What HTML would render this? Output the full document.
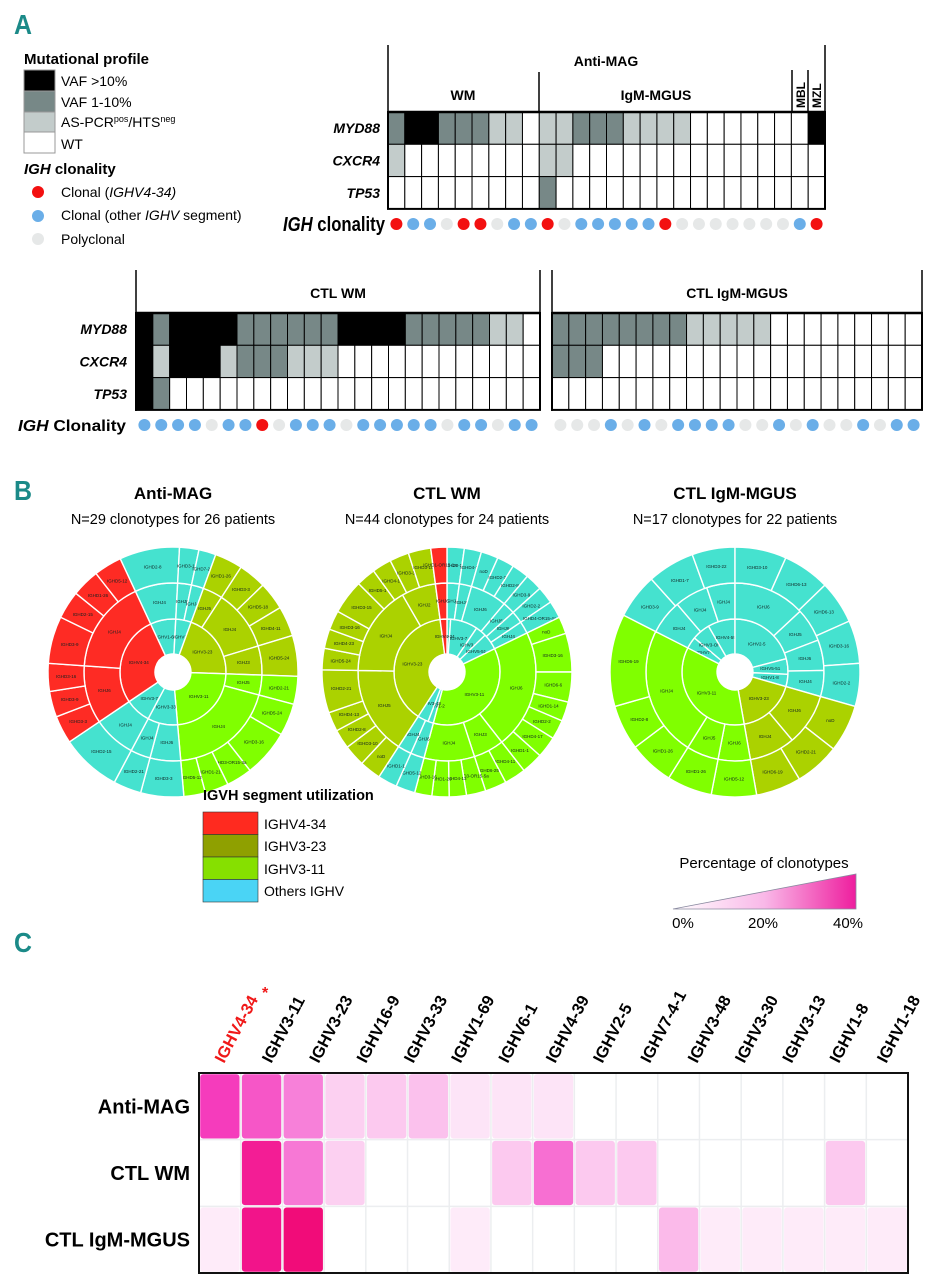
<!DOCTYPE html>
<html><head><meta charset="utf-8"><title>Figure</title>
<style>
html,body{margin:0;padding:0;background:#fff;}
svg{display:block;font-family:"Liberation Sans",sans-serif;}
</style></head>
<body>
<svg id="fig" width="940" height="1280" viewBox="0 0 940 1280" xmlns="http://www.w3.org/2000/svg">
  <text x="14" y="34" font-size="28" font-weight="bold" fill="#1b8a88" textLength="18" lengthAdjust="spacingAndGlyphs">A</text>
  <text x="14" y="500" font-size="28" font-weight="bold" fill="#1b8a88" textLength="18" lengthAdjust="spacingAndGlyphs">B</text>
  <text x="14" y="952" font-size="28" font-weight="bold" fill="#1b8a88" textLength="18" lengthAdjust="spacingAndGlyphs">C</text>

  <g>
    <text x="24" y="64" font-size="15" font-weight="bold">Mutational profile</text>
    <rect x="24" y="70" width="31" height="21" fill="#000" stroke="#999"/>
    <rect x="24" y="91" width="31" height="21" fill="#778887" stroke="#999"/>
    <rect x="24" y="112" width="31" height="20" fill="#c3cccb" stroke="#999"/>
    <rect x="24" y="132" width="31" height="21" fill="#fff" stroke="#999"/>
    <text x="61" y="86" font-size="14">VAF &gt;10%</text>
    <text x="61" y="107" font-size="14">VAF 1-10%</text>
    <text x="61" y="127" font-size="14">AS-PCR<tspan font-size="9" dy="-5">pos</tspan><tspan dy="5">/HTS</tspan><tspan font-size="9" dy="-5">neg</tspan></text>
    <text x="61" y="149" font-size="14">WT</text>
    <text x="24" y="174" font-size="15" font-weight="bold"><tspan font-style="italic">IGH</tspan> clonality</text>
    <circle cx="38" cy="192" r="6" fill="#f31010"/>
    <circle cx="38" cy="216" r="6" fill="#6aaee8"/>
    <circle cx="38" cy="239" r="6" fill="#e6e8e8"/>
    <text x="61" y="197" font-size="14">Clonal (<tspan font-style="italic">IGHV4-34)</tspan></text>
    <text x="61" y="220" font-size="14">Clonal (other <tspan font-style="italic">IGHV</tspan> segment)</text>
    <text x="61" y="244" font-size="14">Polyclonal</text>
  </g>

  <g stroke="#000" stroke-width="1.5">
    <line x1="388" y1="45" x2="388" y2="209"/>
    <line x1="825" y1="45" x2="825" y2="209"/>
    <line x1="539" y1="72" x2="539" y2="112"/>
    <line x1="792" y1="70" x2="792" y2="112"/>
    <line x1="808" y1="70" x2="808" y2="112"/>
  </g>
  <text x="606" y="66" font-size="14" font-weight="bold" text-anchor="middle">Anti-MAG</text>
  <text x="463" y="100" font-size="14" font-weight="bold" text-anchor="middle">WM</text>
  <text x="656" y="100" font-size="14" font-weight="bold" text-anchor="middle">IgM-MGUS</text>
  <text transform="translate(805,108) rotate(-90)" font-size="12" font-weight="bold">MBL</text>
  <text transform="translate(821,108) rotate(-90)" font-size="12" font-weight="bold">MZL</text>

  <g stroke="#000" stroke-width="1.5">
    <line x1="136" y1="270" x2="136" y2="411"/>
    <line x1="540" y1="270" x2="540" y2="313"/>
    <line x1="552" y1="270" x2="552" y2="411"/>
    <line x1="922" y1="270" x2="922" y2="313"/>
  </g>
  <text x="338" y="298" font-size="14" font-weight="bold" text-anchor="middle">CTL WM</text>
  <text x="737" y="298" font-size="14" font-weight="bold" text-anchor="middle">CTL IgM-MGUS</text>

  <g id="gridLayer"></g>

  <text x="173" y="499" font-size="17" font-weight="bold" text-anchor="middle">Anti-MAG</text>
  <text x="173" y="524" font-size="14.5" text-anchor="middle">N=29 clonotypes for 26 patients</text>
  <text x="447" y="499" font-size="17" font-weight="bold" text-anchor="middle">CTL WM</text>
  <text x="447" y="524" font-size="14.5" text-anchor="middle">N=44 clonotypes for 24 patients</text>
  <text x="735" y="499" font-size="17" font-weight="bold" text-anchor="middle">CTL IgM-MGUS</text>
  <text x="735" y="524" font-size="14.5" text-anchor="middle">N=17 clonotypes for 22 patients</text>

  <g id="sunLayer"></g>

  <g>
    <text x="203" y="800" font-size="14.5" font-weight="bold">IGVH segment utilization</text>
    <rect x="203" y="812" width="55" height="22.5" fill="#ff2a1f" stroke="#333" stroke-width="0.6"/>
    <rect x="203" y="834.5" width="55" height="22.5" fill="#8fa000" stroke="#333" stroke-width="0.6"/>
    <rect x="203" y="857" width="55" height="22.5" fill="#86e000" stroke="#333" stroke-width="0.6"/>
    <rect x="203" y="879.5" width="55" height="22.5" fill="#4ad4f5" stroke="#333" stroke-width="0.6"/>
    <text x="264" y="829" font-size="14">IGHV4-34</text>
    <text x="264" y="851" font-size="14">IGHV3-23</text>
    <text x="264" y="874" font-size="14">IGHV3-11</text>
    <text x="264" y="896" font-size="14">Others IGHV</text>
  </g>

  <defs>
    <linearGradient id="pctGrad" x1="0" y1="0" x2="1" y2="0">
      <stop offset="0" stop-color="#ffffff"/>
      <stop offset="0.5" stop-color="#f9b8e8"/>
      <stop offset="1" stop-color="#ee1e9e"/>
    </linearGradient>
  </defs>
  <g>
    <text x="764" y="868" font-size="15" text-anchor="middle">Percentage of clonotypes</text>
    <polygon points="673,909 856,874 856,909" fill="url(#pctGrad)" stroke="#8a8aa0" stroke-width="0.8"/>
    <text x="683" y="928" font-size="15" text-anchor="middle">0%</text>
    <text x="763" y="928" font-size="15" text-anchor="middle">20%</text>
    <text x="848" y="928" font-size="15" text-anchor="middle">40%</text>
  </g>

  <g id="heatLayer"></g>
</svg>

<script>
// ---------- Panel A data ----------
const antiMagMYD88 = [2,3,3,2,2,2,1,1,0, 1,1,2,2,2,1,1,1,1,0,0,0,0,0,0, 0, 3];
const antiMagCXCR4 = [1,0,0,0,0,0,0,0,0, 1,1,0,0,0,0,0,0,0,0,0,0,0,0,0, 0, 0];
const antiMagTP53  = [0,0,0,0,0,0,0,0,0, 2,0,0,0,0,0,0,0,0,0,0,0,0,0,0, 0, 0];
const antiMagIGH   = ["R","B","B","G","R","R","G","B","B","R","G","B","B","B","B","B","R","G","G","G","G","G","G","G","B","R"];
const ctlWmMYD88 = [3,2,3,3,3,3,2,2,2,2,2,2,3,3,3,3,2,2,2,2,2,1,1,0];
const ctlWmCXCR4 = [3,1,3,3,3,1,2,2,2,1,1,1,0,0,0,0,0,0,0,0,0,0,0,0];
const ctlWmTP53  = [3,2,0,0,0,0,0,0,0,0,0,0,0,0,0,0,0,0,0,0,0,0,0,0];
const ctlWmIGH   = ["B","B","B","B","G","B","B","R","G","B","B","B","G","B","B","B","B","B","G","B","B","G","B","B"];
const ctlIgmMYD88 = [2,2,2,2,2,2,2,2,1,1,1,1,1,0,0,0,0,0,0,0,0,0];
const ctlIgmCXCR4 = [2,2,2,0,0,0,0,0,0,0,0,0,0,0,0,0,0,0,0,0,0,0];
const ctlIgmTP53  = [0,0,0,0,0,0,0,0,0,0,0,0,0,0,0,0,0,0,0,0,0,0];
const ctlIgmIGH   = ["G","G","G","B","G","B","G","B","B","B","B","G","G","B","G","B","G","G","B","G","B","B"];
const geneNames = ["MYD88","CXCR4","TP53"];

// ---------- Panel B data: [label, group, degrees] ----------
const amV = [["IGHV1-69","O",28],["IGHV2","O",17],["IGHV3-23","L",72],["IGHV3-11","G",83],["IGHV3-33","O",33],["IGHV3-7","O",28],["IGHV4-34","R",99]];
const amJ = [["IGHJ4","O",28],["IGHJ6","O",9],["IGHJ4","O",8],["IGHJ5","L",13],["IGHJ4","L",40],["IGHJ3","L",19],["IGHJ5","G",13],["IGHJ4","G",70],["IGHJ6","O",20],["IGHJ4","O",13],["IGHJ4","O",28],["IGHJ6","R",38],["IGHJ4","R",61]];
const amD = [["IGHD2-8","O",28],["IGHD3-16","O",9],["IGHD7-27","O",8],["IGHD1-26","L",13],["IGHD3-3","L",13],["IGHD5-18","L",13],["IGHD4-11","L",14],["IGHD5-24","L",19],["IGHD2-21","G",13],["IGHD5-24","G",15],["IGHD3-16","G",22],["IGHD3-OR15-3a","G",12],["IGHD1-21","G",11],["IGHD5-12","G",10],["IGHD3-3","O",20],["IGHD2-21","O",13],["IGHD2-15","O",28],["IGHD3-3","R",13],["IGHD3-9","R",12],["IGHD3-16","R",13],["IGHD3-9","R",22],["IGHD2-15","R",13],["IGHD1-26","R",13],["IGHD5-12","R",13]];

const wmV = [["IGHV1-69","O",4],["IGHV3-7","O",30],["IGHV3-30","O",12],["IGHV5-51","O",18],["IGHV3-11","G",131],["IGHV1-2","O",6],["IGHV3-48","O",12],["IGHV3-23","L",139.5],["IGHV4-34","R",7.5]];
const wmJ = [["IGHJ4","O",8],["IGHJ6","O",8],["IGHJ6","O",24],["IGHJ5","O",8],["IGHJ6","O",8],["IGHJ4","O",8],["IGHJ6","G",78],["IGHJ3","G",20],["IGHJ4","G",33],["IGHJ6","O",9],["IGHJ4","O",9],["IGHJ5","L",58],["IGHJ4","L",59],["IGHJ2","L",22.5],["IGHJ6","R",7.5]];
const wmD = [["IGHD3-10","O",8],["IGHD4-2","O",8],["noD","O",8],["IGHD2-2","O",8],["IGHD2-8","O",8],["IGHD3-9","O",8],["IGHD2-2","O",8],["IGHD4-OR15-4a","O",8],["noD","G",8],["IGHD3-16","G",18],["IGHD6-6","G",14],["IGHD1-14","G",9],["IGHD2-2","G",9],["IGHD4-17","G",10],["IGHD1-1","G",10],["IGHD4-11","G",10],["IGHD6-25","G",10],["IGHD3-OR15-5a","G",9],["IGHD4-13","G",8],["IGHD1-26","G",8],["IGHD3-16","G",8],["IGHD5-12","O",9],["IGHD1-1","O",9],["noD","L",10],["IGHD3-10","L",10],["IGHD2-8","L",9],["IGHD4-13","L",9],["IGHD2-21","L",20],["IGHD5-24","L",10],["IGHD4-23","L",9],["IGHD3-16","L",9],["IGHD3-15","L",16],["IGHD5-1","L",9],["IGHD4-1","L",9],["IGHD3-3","L",9],["IGHD3-10","L",10.5],["IGHD1-OR15-1a","R",7.5]];

const igV = [["IGHV7-4","O",13.5],["IGHV3-OR16","O",20],["IGHV4-59","O",30],["IGHV2-5","O",75.5],["IGHV5-51","O",17],["IGHV1-8","O",13.5],["IGHV3-23","L",64],["IGHV3-11","G",127]];
const igJ = [["IGHJ4","O",23],["IGHJ4","O",22],["IGHJ4","O",18.5],["IGHJ6","O",47],["IGHJ5","O",22],["IGHJ6","O",20],["IGHJ4","O",17],["IGHJ6","L",34],["IGHJ4","L",30],["IGHJ6","G",21],["IGHJ5","G",21],["IGHJ4","G",85]];
const igD = [["IGHD3-9","O",21.5],["IGHD1-7","O",22],["IGHD3-22","O",20],["IGHD3-10","O",24],["IGHD6-13","O",22],["IGHD6-13","O",20],["IGHD3-16","O",20],["IGHD2-2","O",20],["noD","L",22],["IGHD2-21","L",21],["IGHD6-19","L",21],["IGHD5-12","G",21],["IGHD1-26","G",21],["IGHD1-26","G",21],["IGHD2-8","G",21],["IGHD6-19","G",43]];

// ---------- Panel C data ----------
const heatRows = ["Anti-MAG","CTL WM","CTL IgM-MGUS"];
const heatLabels = ["IGHV4-34","IGHV3-11","IGHV3-23","IGHV16-9","IGHV3-33","IGHV1-69","IGHV6-1","IGHV4-39","IGHV2-5","IGHV7-4-1","IGHV3-48","IGHV3-30","IGHV3-13","IGHV1-8","IGHV1-18"];
const antiMagPct = [26,23,18,7,8,9,4,4,4,0,0,0,0,0,0,0,0];
const ctlWmPct   = [0,33,19,7,0,0,0,8,20,8,8,0,0,0,0,8,0];
const ctlIgmPct  = [3,35,38,0,0,0,3,0,0,0,0,10,3,3,3,3,3];

const NS = "http://www.w3.org/2000/svg";
function mk(tag, attrs, parent){
  const e = document.createElementNS(NS, tag);
  for (const k in attrs) e.setAttribute(k, attrs[k]);
  parent.appendChild(e);
  return e;
}

const mutColors = ["#ffffff","#c3cccb","#778887","#000000"];
const dotColors = {R:"#f31010", B:"#6aaee8", G:"#e6e8e8"};
const gridLayer = document.getElementById("gridLayer");

function drawGrid(name, x0, x1, y0, rowH, rows, igh, dotY, labelX){
  const n = rows[0].length;
  const cw = (x1 - x0) / n;
  const g = mk("g", {}, gridLayer);
  
  
  rows.forEach((vals, r) => {
    vals.forEach((v, c) => {
      const cell = mk("rect", {x: x0 + c*cw, y: y0 + r*rowH, width: cw, height: rowH, fill: mutColors[v], stroke: "#000", "stroke-width": 1}, g);
      
      
    });
    if (labelX !== null){
      const t = mk("text", {x: labelX, y: y0 + r*rowH + rowH/2 + 5, "font-size": 14, "font-weight": "bold", "font-style": "italic", "text-anchor": "end"}, g);
      t.textContent = geneNames[r];
      
      
    }
  });
  const frame = mk("rect", {x: x0, y: y0, width: x1 - x0, height: rowH*rows.length, fill: "none", stroke: "#000", "stroke-width": 2}, g);
  
  
  mk("line", {x1: x0, y1: y0, x2: x1, y2: y0, stroke: "#000", "stroke-width": 2.5}, g);
  igh.forEach((k, c) => {
    const d = mk("circle", {cx: x0 + c*cw + cw/2, cy: dotY, r: 6, fill: dotColors[k]}, g);
    
    
  });
}
drawGrid("anti-mag-mutation-grid", 388, 825, 112, 32.3, [antiMagMYD88, antiMagCXCR4, antiMagTP53], antiMagIGH, 224, 380);
drawGrid("ctl-wm-mutation-grid", 136, 540, 313, 32.3, [ctlWmMYD88, ctlWmCXCR4, ctlWmTP53], ctlWmIGH, 425, 127);
drawGrid("ctl-igm-mutation-grid", 552, 922, 313, 32.3, [ctlIgmMYD88, ctlIgmCXCR4, ctlIgmTP53], ctlIgmIGH, 425, null);

const igh1 = mk("text", {x: 283, y: 231, "font-size": 20, "font-weight": "bold", textLength: 102, lengthAdjust: "spacingAndGlyphs"}, gridLayer);
igh1.innerHTML = '<tspan font-style="italic">IGH</tspan> clonality';


const igh2 = mk("text", {x: 18, y: 431, "font-size": 16, "font-weight": "bold", textLength: 108, lengthAdjust: "spacingAndGlyphs"}, gridLayer);
igh2.innerHTML = '<tspan font-style="italic">IGH</tspan> Clonality';



const sunColors = {R:"#fe2b24", L:"#abd200", G:"#80ff00", O:"#45e2cf"};
const sunLayer = document.getElementById("sunLayer");
function pt(cx, cy, r, a){ const t = (a - 90) * Math.PI/180; return [cx + r*Math.cos(t), cy + r*Math.sin(t)]; }
function arcPath(cx, cy, r0, r1, a0, a1){
  const large = (a1 - a0) > 180 ? 1 : 0;
  const p1 = pt(cx,cy,r1,a0), p2 = pt(cx,cy,r1,a1), p3 = pt(cx,cy,r0,a1), p4 = pt(cx,cy,r0,a0);
  return `M${p1[0]},${p1[1]} A${r1},${r1} 0 ${large} 1 ${p2[0]},${p2[1]} L${p3[0]},${p3[1]} A${r0},${r0} 0 ${large} 0 ${p4[0]},${p4[1]} Z`;
}
function drawRing(g, cx, cy, r0, r1, start, ring, fs){
  let a = start;
  ring.forEach(seg => {
    const a0 = a, a1 = a + seg[2];
    const p = mk("path", {d: arcPath(cx, cy, r0, r1, a0, a1), fill: sunColors[seg[1]], stroke: "#fff", "stroke-width": 1.4}, g);
    
    
    const m = pt(cx, cy, (r0 + r1)/2, (a0 + a1)/2);
    const t = mk("text", {x: m[0], y: m[1] + 1.5, "font-size": fs, "text-anchor": "middle", fill: "#122"}, g);
    t.textContent = seg[0];
    
    
    a = a1;
  });
}
function drawSun(name, cx, cy, start, V, J, D){
  const g = mk("g", {}, sunLayer);
  
  
  drawRing(g, cx, cy, 18, 53, start, V, 4.5);
  drawRing(g, cx, cy, 53, 89, start, J, 4.5);
  drawRing(g, cx, cy, 89, 125, start, D, 4.5);
}
drawSun("sunburst-anti-mag", 173, 672, 335, amV, amJ, amD);
drawSun("sunburst-ctl-wm", 447, 672, 0, wmV, wmJ, wmD);
drawSun("sunburst-ctl-igm-mgus", 735, 672, 296.5, igV, igJ, igD);

const heatLayer = document.getElementById("heatLayer");
const hx0 = 199, hx1 = 908, hy0 = 1073, hy1 = 1273;
const nCols = antiMagPct.length;
function xScale(i){ return hx0 + i * (hx1 - hx0) / nCols; }
function yScale(r){ return hy0 + r * (hy1 - hy0) / heatRows.length; }
const stops = [[0,[255,255,255]],[7,[252,208,241]],[18,[247,128,217]],[26,[245,60,188]],[35,[242,20,138]],[40,[240,6,110]]];
function pctColor(v){
  for (let i = 1; i < stops.length; i++){
    if (v <= stops[i][0]){
      const [a, ca] = stops[i-1], [b, cb] = stops[i];
      const t = (v - a) / (b - a);
      return "rgb(" + ca.map((c, k) => Math.round(c + (cb[k] - c) * t)).join(",") + ")";
    }
  }
  return "rgb(240,6,110)";
}
const heatG = mk("g", {}, heatLayer);


const cw = (hx1 - hx0) / nCols, ch = (hy1 - hy0) / heatRows.length;
for (let i = 1; i < nCols; i++){
  mk("line", {x1: xScale(i), y1: hy0, x2: xScale(i), y2: hy1, stroke: "#eceef0", "stroke-width": 1.5}, heatG);
}
for (let r = 1; r < heatRows.length; r++){
  mk("line", {x1: hx0, y1: yScale(r), x2: hx1, y2: yScale(r), stroke: "#eceef0", "stroke-width": 1.5}, heatG);
}
[antiMagPct, ctlWmPct, ctlIgmPct].forEach((vals, r) => {
  vals.forEach((v, c) => {
    if (v <= 0) return;
    const cell = mk("rect", {x: xScale(c) + 1.2, y: yScale(r) + 1.2, width: cw - 2.4, height: ch - 2.4, rx: 3, fill: pctColor(v)}, heatG);
    
    
  });
  const t = mk("text", {x: 190, y: yScale(r) + ch/2 + 7, "font-size": 20, "font-weight": "bold", "text-anchor": "end"}, heatG);
  t.textContent = heatRows[r];
  
  
});
const hframe = mk("rect", {x: hx0, y: hy0, width: hx1 - hx0, height: hy1 - hy0, fill: "none", stroke: "#111", "stroke-width": 2}, heatG);


heatLabels.forEach((lab, i) => {
  const lx = 224 + i * 47.3, ly = 1064;
  const t = mk("text", {x: lx, y: ly, "font-size": 16.5, "font-weight": "bold", transform: `rotate(-62 ${lx} ${ly})`, fill: i === 0 ? "#f01818" : "#000"}, heatG);
  t.textContent = lab;
  
  
  if (i === 0){
    const s = mk("text", {x: lx + 38, y: ly - 66, "font-size": 16, "font-weight": "bold", fill: "#f01818"}, heatG);
    s.textContent = "*";
    
    
  }
});
</script>
</body></html>
